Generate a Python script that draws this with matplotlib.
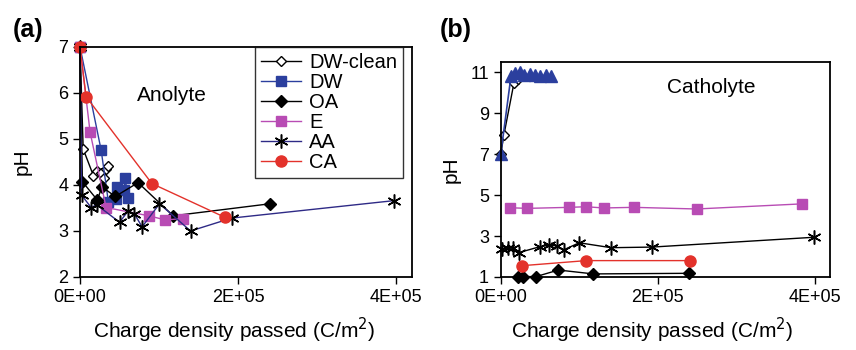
import matplotlib.pyplot as plt

plt.rcParams['font.family'] = ['Liberation Sans', 'DejaVu Sans']

# ---- panel (a) anolyte ----
a_dwc_x = [0, 4e3, 17e3, 21e3, 27e3, 30e3, 33e3, 36e3]
a_dwc_y = [7, 4.78, 4.2, 4.3, 4.25, 4.15, 4.35, 4.42]
a_dw_x = [0, 26.8e3, 36e3, 45e3, 47e3, 56e3, 57e3, 61e3]
a_dw_y = [7, 4.75, 3.62, 3.7, 3.95, 3.9, 4.15, 3.72]
a_oa_x = [0, 3e3, 22e3, 27.6e3, 44.6e3, 73.5e3, 118e3, 240e3]
a_oa_y = [7, 4.07, 3.67, 3.96, 3.75, 4.05, 3.33, 3.59]
a_e_x = [0, 12.7e3, 33e3, 87e3, 108e3, 130e3]
a_e_y = [7, 5.15, 3.51, 3.33, 3.24, 3.27]
a_aa_x = [0, 2e3, 14e3, 21e3, 50e3, 60.7e3, 68.8e3, 78.6e3, 100.6e3, 140e3, 192e3, 398e3]
a_aa_y = [7, 3.78, 3.51, 3.57, 3.19, 3.43, 3.37, 3.09, 3.59, 3.0, 3.28, 3.66]
a_ca_x = [0, 7.6e3, 91e3, 183e3]
a_ca_y = [7, 5.92, 4.03, 3.30]

# ---- panel (b) catholyte ----
b_dwc_x = [0, 4e3, 16.7e3, 22e3]
b_dwc_y = [7, 7.93, 10.45, 10.65]
b_dw_x = [0, 13e3, 18e3, 24e3, 30e3, 37e3, 44e3, 50e3, 58e3, 64e3]
b_dw_y = [7, 10.8, 10.95, 11.0, 10.85, 10.9, 10.85, 10.8, 10.85, 10.8]
b_oa_x = [22e3, 27.8e3, 45e3, 73.5e3, 118e3, 240e3]
b_oa_y = [1.02, 1.02, 1.02, 1.34, 1.15, 1.18]
b_e_x = [12.4e3, 33.8e3, 87.6e3, 108.6e3, 131e3, 169.6e3, 249.6e3, 384e3]
b_e_y = [4.38, 4.35, 4.40, 4.43, 4.37, 4.40, 4.32, 4.57]
b_aa_x = [1e3, 9.4e3, 15e3, 23e3, 50e3, 61.5e3, 71.4e3, 80e3, 100e3, 140.6e3, 192.7e3, 399.6e3]
b_aa_y = [2.35, 2.43, 2.43, 2.19, 2.48, 2.55, 2.52, 2.32, 2.67, 2.43, 2.46, 2.94]
b_ca_x = [26.5e3, 109e3, 241e3]
b_ca_y = [1.55, 1.80, 1.80]

blue = '#2b3f9e'
magenta = '#b84cb4'
red = '#e3322b'
navy = '#2e2a86'
star = (6, 2, 0)

fig = plt.figure(figsize=(8.56, 3.5), dpi=100)
ax1 = fig.add_axes([0.0935, 0.2086, 0.3875, 0.6574])
ax2 = fig.add_axes([0.585, 0.2086, 0.385, 0.6145])

ax1.plot(a_dwc_x, a_dwc_y, color='black', lw=1, marker='D', ms=5.5, mfc='white', mec='black', label='DW-clean', clip_on=False)
ax1.plot(a_dw_x, a_dw_y, color=blue, lw=1, marker='s', ms=7.5, mfc=blue, mec=blue, label='DW', clip_on=False)
ax1.plot(a_oa_x, a_oa_y, color='black', lw=1, marker='D', ms=6, mfc='black', mec='black', label='OA', clip_on=False)
ax1.plot(a_e_x, a_e_y, color=magenta, lw=1, marker='s', ms=7.5, mfc=magenta, mec=magenta, label='E', clip_on=False)
ax1.plot(a_aa_x, a_aa_y, color=navy, lw=1, marker=star, ms=10, mec='black', mew=1.1, label='AA', clip_on=False)
ax1.plot(a_ca_x, a_ca_y, color=red, lw=1, marker='o', ms=8, mfc=red, mec=red, label='CA', clip_on=False)

ax2.plot(b_dwc_x, b_dwc_y, color='black', lw=1, marker='D', ms=5.5, mfc='white', mec='black', clip_on=False)
ax2.plot(b_dw_x, b_dw_y, color=blue, lw=1.2, marker='^', ms=9, mfc=blue, mec=blue, clip_on=False)
ax2.plot(b_oa_x, b_oa_y, color='black', lw=1, marker='D', ms=6, mfc='black', mec='black', clip_on=False)
ax2.plot(b_e_x, b_e_y, color=magenta, lw=1, marker='s', ms=7.5, mfc=magenta, mec=magenta, clip_on=False)
ax2.plot(b_aa_x, b_aa_y, color='black', lw=1, marker=star, ms=10, mec='black', mew=1.1, clip_on=False)
ax2.plot(b_ca_x, b_ca_y, color=red, lw=1, marker='o', ms=8, mfc=red, mec=red, clip_on=False)

ax1.set_xlim(0, 4.2e5)
ax1.set_ylim(2, 7)
ax1.set_yticks([2, 3, 4, 5, 6, 7])
ax2.set_xlim(0, 4.2e5)
ax2.set_ylim(1, 11.5)
ax2.set_yticks([1, 3, 5, 7, 9, 11])

for ax in (ax1, ax2):
    ax.set_xticks([0, 2e5, 4e5])
    ax.set_xticklabels(['0E+00', '2E+05', '4E+05'])
    ax.tick_params(direction='out', length=5, labelsize=13, width=1)
    for s in ax.spines.values():
        s.set_linewidth(1.3)
    ax.set_xlabel('Charge density passed (C/m$^2$)', fontsize=15)
    ax.set_ylabel('pH', fontsize=15)

ax1.xaxis.set_label_coords(0.464, -0.17)
ax2.xaxis.set_label_coords(0.46, -0.182)
ax1.yaxis.set_label_coords(-0.145, 0.5)
ax2.yaxis.set_label_coords(-0.122, 0.5)

ax1.text(0.277, 0.79, 'Anolyte', transform=ax1.transAxes, fontsize=15, ha='center', va='center')
ax2.text(0.64, 0.88, 'Catholyte', transform=ax2.transAxes, fontsize=15, ha='center', va='center')

leg = ax1.legend(loc='upper right', bbox_to_anchor=(0.975, 1.0), fontsize=14.5, frameon=True,
                 fancybox=False, edgecolor='black', handlelength=2.0, labelspacing=0.05,
                 borderpad=0.3, handletextpad=0.4, borderaxespad=0.0)
leg.get_frame().set_linewidth(1.0)

fig.text(0.033, 0.914, '(a)', fontsize=18, fontweight='bold', ha='center', va='center')
fig.text(0.532, 0.914, '(b)', fontsize=18, fontweight='bold', ha='center', va='center')

fig.savefig('out.png', dpi=100)
